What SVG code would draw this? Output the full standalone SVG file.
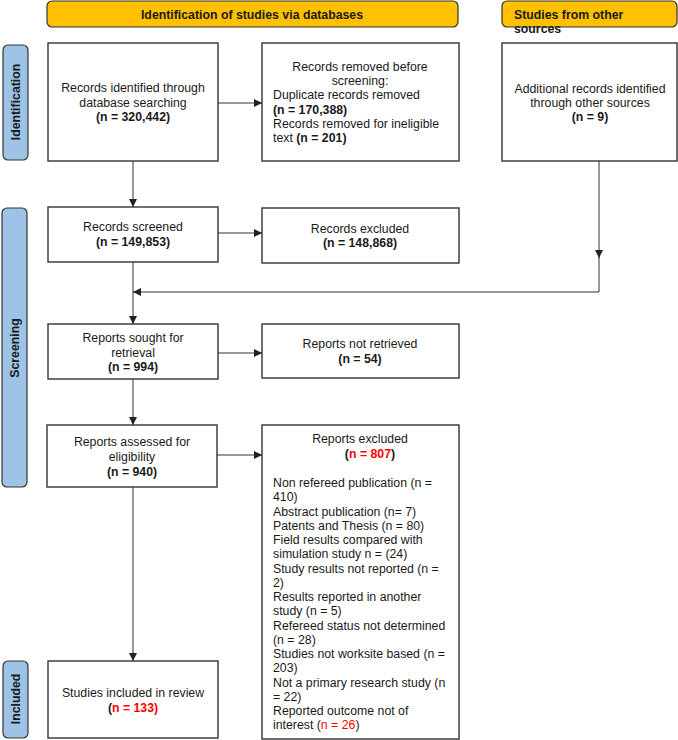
<svg xmlns="http://www.w3.org/2000/svg" width="678" height="740" viewBox="0 0 678 740">
<defs>
<marker id="ah" viewBox="0 0 10 10" refX="10" refY="5" markerWidth="8" markerHeight="8" markerUnits="userSpaceOnUse" orient="auto">
<path d="M0,0 L10,5 L0,10 z" fill="#222"/>
</marker>
<style>
.box{fill:#fff;stroke:#333;stroke-width:1.4}
.ban{fill:#FFC000;stroke:#333;stroke-width:1.2}
.side{fill:#9DC3E6;stroke:#333;stroke-width:1.2}
text{font-family:"Liberation Sans",Arial,sans-serif;font-size:12.3px;fill:#1a1a1a}
.c{text-anchor:middle}
.b{font-weight:bold}
.r{fill:#FF0000}
.con{fill:none;stroke:#333;stroke-width:1}
</style>
</defs>
<rect width="678" height="740" fill="#fff"/>
<g id="banner-databases">
<rect class="ban" x="47" y="1" width="411" height="26" rx="5"/>
<text class="c b" x="252" y="19">Identification of studies via databases</text>
</g>
<g id="banner-other">
<rect class="ban" x="502" y="1" width="175" height="26" rx="5"/>
<text class="b" x="514" y="19">Studies from other</text>
<text class="b" x="514" y="33">sources</text>
</g>
<g id="side-identification">
<rect class="side" x="3" y="45" width="25" height="115" rx="5"/>
<text class="c b" transform="translate(20,102) rotate(-90)">Identification</text>
</g>
<g id="side-screening">
<rect class="side" x="2" y="208" width="25" height="279" rx="5"/>
<text class="c b" transform="translate(19,348) rotate(-90)">Screening</text>
</g>
<g id="side-included">
<rect class="side" x="3" y="661" width="25" height="77" rx="5"/>
<text class="c b" transform="translate(20,699) rotate(-90)">Included</text>
</g>
<g id="records-identified">
<rect class="box" x="48" y="43" width="170" height="118"/>
<text class="c" x="133" y="92">Records identified through</text>
<text class="c" x="133" y="106.5">database searching</text>
<text class="c b" x="133" y="121">(n = 320,442)</text>
</g>
<g id="records-removed">
<rect class="box" x="262" y="43" width="197" height="118"/>
<text class="c" x="360" y="71">Records removed before</text>
<text class="c" x="360" y="85">screening:</text>
<text x="273" y="99">Duplicate records removed</text>
<text class="b" x="273" y="113.5">(n = 170,388)</text>
<text x="273" y="128">Records removed for ineligible</text>
<text x="273" y="142">text <tspan class="b">(n = 201)</tspan></text>
</g>
<g id="additional-records">
<rect class="box" x="502" y="43" width="175" height="118"/>
<text class="c" x="590" y="93">Additional records identified</text>
<text class="c" x="590" y="107">through other sources</text>
<text class="c b" x="590" y="121">(n = 9)</text>
</g>
<g id="records-screened">
<rect class="box" x="48" y="207" width="170" height="55"/>
<text class="c" x="133" y="231">Records screened</text>
<text class="c b" x="133" y="246">(n = 149,853)</text>
</g>
<g id="records-excluded">
<rect class="box" x="262" y="208" width="197" height="55"/>
<text class="c" x="360" y="233">Records excluded</text>
<text class="c b" x="360" y="247">(n = 148,868)</text>
</g>
<g id="reports-sought">
<rect class="box" x="48" y="324" width="170" height="55"/>
<text class="c" x="133" y="342">Reports sought for</text>
<text class="c" x="133" y="357">retrieval</text>
<text class="c b" x="133" y="371">(n = 994)</text>
</g>
<g id="reports-not-retrieved">
<rect class="box" x="262" y="324" width="197" height="54"/>
<text class="c" x="360" y="348">Reports not retrieved</text>
<text class="c b" x="360" y="363">(n = 54)</text>
</g>
<g id="reports-assessed">
<rect class="box" x="47" y="425" width="170" height="62"/>
<text class="c" x="132" y="446">Reports assessed for</text>
<text class="c" x="132" y="461">eligibility</text>
<text class="c b" x="132" y="476">(n = 940)</text>
</g>
<g id="reports-excluded">
<rect class="box" x="262" y="425" width="197" height="314"/>
<text class="c" x="360" y="443">Reports excluded</text>
<text class="c b" x="370" y="458">(<tspan class="r">n = 807</tspan>)</text>
<text x="273" y="487">Non refereed publication (n =</text>
<text x="273" y="501">410)</text>
<text x="273" y="515.5">Abstract publication (n= 7)</text>
<text x="273" y="529.5">Patents and Thesis (n = 80)</text>
<text x="273" y="544">Field results compared with</text>
<text x="273" y="558">simulation study n = (24)</text>
<text x="273" y="572.5">Study results not reported (n =</text>
<text x="273" y="586.5">2)</text>
<text x="273" y="601">Results reported in another</text>
<text x="273" y="615">study (n = 5)</text>
<text x="273" y="629.5">Refereed status not determined</text>
<text x="273" y="643.5">(n = 28)</text>
<text x="273" y="658">Studies not worksite based (n =</text>
<text x="273" y="672">203)</text>
<text x="273" y="686.5">Not a primary research study (n</text>
<text x="273" y="700.5">= 22)</text>
<text x="273" y="715">Reported outcome not of</text>
<text x="273" y="729">interest (<tspan class="r">n = 26</tspan>)</text>
</g>
<g id="studies-included">
<rect class="box" x="48" y="661" width="170" height="77"/>
<text class="c" x="133" y="697">Studies included in review</text>
<text class="c b" x="133" y="712">(<tspan class="r">n = 133)</tspan></text>
</g>
<g id="connectors">
<line class="con" x1="218" y1="103" x2="262" y2="103" marker-end="url(#ah)"/>
<line class="con" x1="133" y1="161" x2="133" y2="207" marker-end="url(#ah)"/>
<line class="con" x1="218" y1="233" x2="262" y2="233" marker-end="url(#ah)"/>
<line class="con" x1="133" y1="262" x2="133" y2="324" marker-end="url(#ah)"/>
<line class="con" x1="599" y1="161" x2="599" y2="258" marker-end="url(#ah)"/>
<polyline class="con" points="599,257 599,292 133,292" marker-end="url(#ah)"/>
<line class="con" x1="218" y1="353" x2="262" y2="353" marker-end="url(#ah)"/>
<line class="con" x1="133" y1="379" x2="133" y2="425" marker-end="url(#ah)"/>
<line class="con" x1="217" y1="455" x2="262" y2="455" marker-end="url(#ah)"/>
<line class="con" x1="133" y1="487" x2="133" y2="661" marker-end="url(#ah)"/>
</g>
</svg>
